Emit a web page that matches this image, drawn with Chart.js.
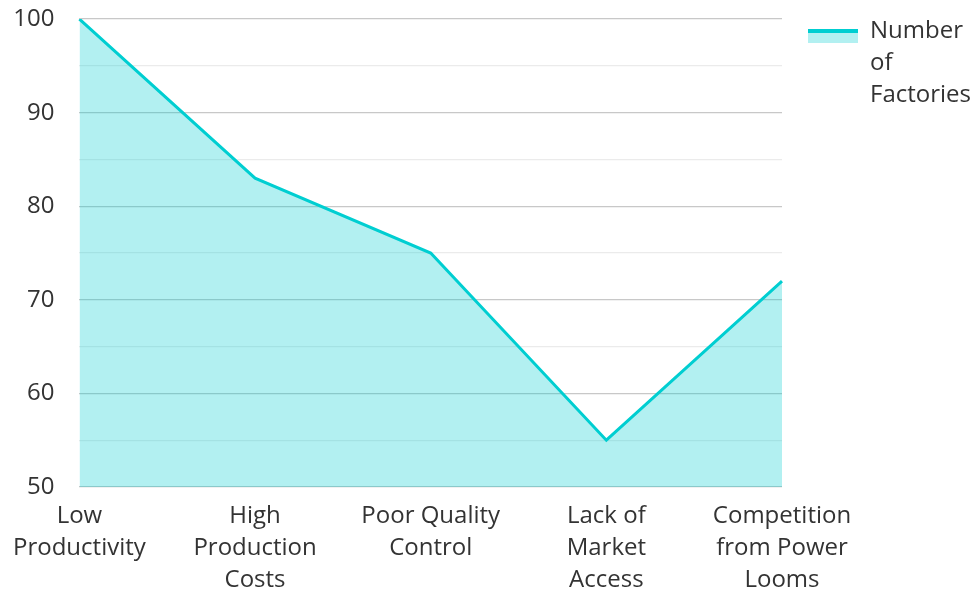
<!DOCTYPE html>
<html>
<head>
<meta charset="utf-8">
<script src="https://cdn.jsdelivr.net/npm/chart.js@4"></script>
<style>
  html, body { margin: 0; padding: 0; background: #fff; }
  #wrap { width: 974px; height: 589px; }
</style>
</head>
<body>
<div id="wrap"><canvas id="chart"></canvas></div>
<script>
const categories = [
    ['Low', 'Productivity'],
    ['High', 'Production', 'Costs'],
    ['Poor Quality', 'Control'],
    ['Lack of', 'Market', 'Access'],
    ['Competition', 'from Power', 'Looms']
];
const seriesLabel = ['Number', 'of', 'Factories'];
const factories = [100, 83, 75, 55, 72];
const yTicks = [50, 60, 70, 80, 90, 100];

const lineColor = '#00CED1';
const fillColor = 'rgba(0, 206, 209, 0.3)';

// legend swatch: fill with a line on top, sitting a bit below the text centre
const swatch = document.createElement('canvas');
swatch.width = 50;
swatch.height = 24;
const sctx = swatch.getContext('2d');
sctx.fillStyle = fillColor;
sctx.fillRect(0, 10, 50, 14);
sctx.fillStyle = lineColor;
sctx.fillRect(0, 10, 50, 4);

Chart.defaults.font.family = '"Open Sans", "Noto Sans", sans-serif';
Chart.defaults.font.size = 24;
Chart.defaults.font.lineHeight = 1.34;
Chart.defaults.color = '#333';

new Chart(document.getElementById('chart'), {
    type: 'line',
    data: {
        labels: categories,
        datasets: [{
            label: seriesLabel,
            data: factories,
            borderColor: lineColor,
            backgroundColor: fillColor,
            borderWidth: 3,
            fill: 'origin',
            tension: 0,
            pointRadius: 0,
            pointHoverRadius: 0,
            pointStyle: swatch
        }]
    },
    options: {
        responsive: true,
        maintainAspectRatio: false,
        animation: false,
        layout: { padding: { top: -7, left: 0, right: 0, bottom: 0 } },
        scales: {
            x: {
                offset: false,
                grid: { display: false, drawTicks: false },
                border: { display: false },
                ticks: { padding: 13, maxRotation: 0, autoSkip: false },
                afterFit: s => { s.height = 102; }
            },
            y: {
                min: 50,
                max: 100,
                border: { display: false },
                grid: {
                    drawTicks: true,
                    tickLength: 22,
                    tickColor: 'rgba(0,0,0,0)',
                    lineWidth: 1.2,
                    color: c => (c.tick && c.tick.value % 10 === 0) ? '#c8c8c8' : '#ebebeb'
                },
                ticks: {
                    stepSize: 5,
                    padding: 3,
                    callback: v => yTicks.includes(v) ? v : ''
                }
            }
        },
        plugins: {
            legend: {
                position: 'right',
                align: 'start',
                maxWidth: 192,
                labels: {
                    usePointStyle: true,
                    pointStyleWidth: 50,
                    boxHeight: 24,
                    padding: 26
                }
            },
            tooltip: { enabled: false }
        }
    }
});
</script>
</body>
</html>
